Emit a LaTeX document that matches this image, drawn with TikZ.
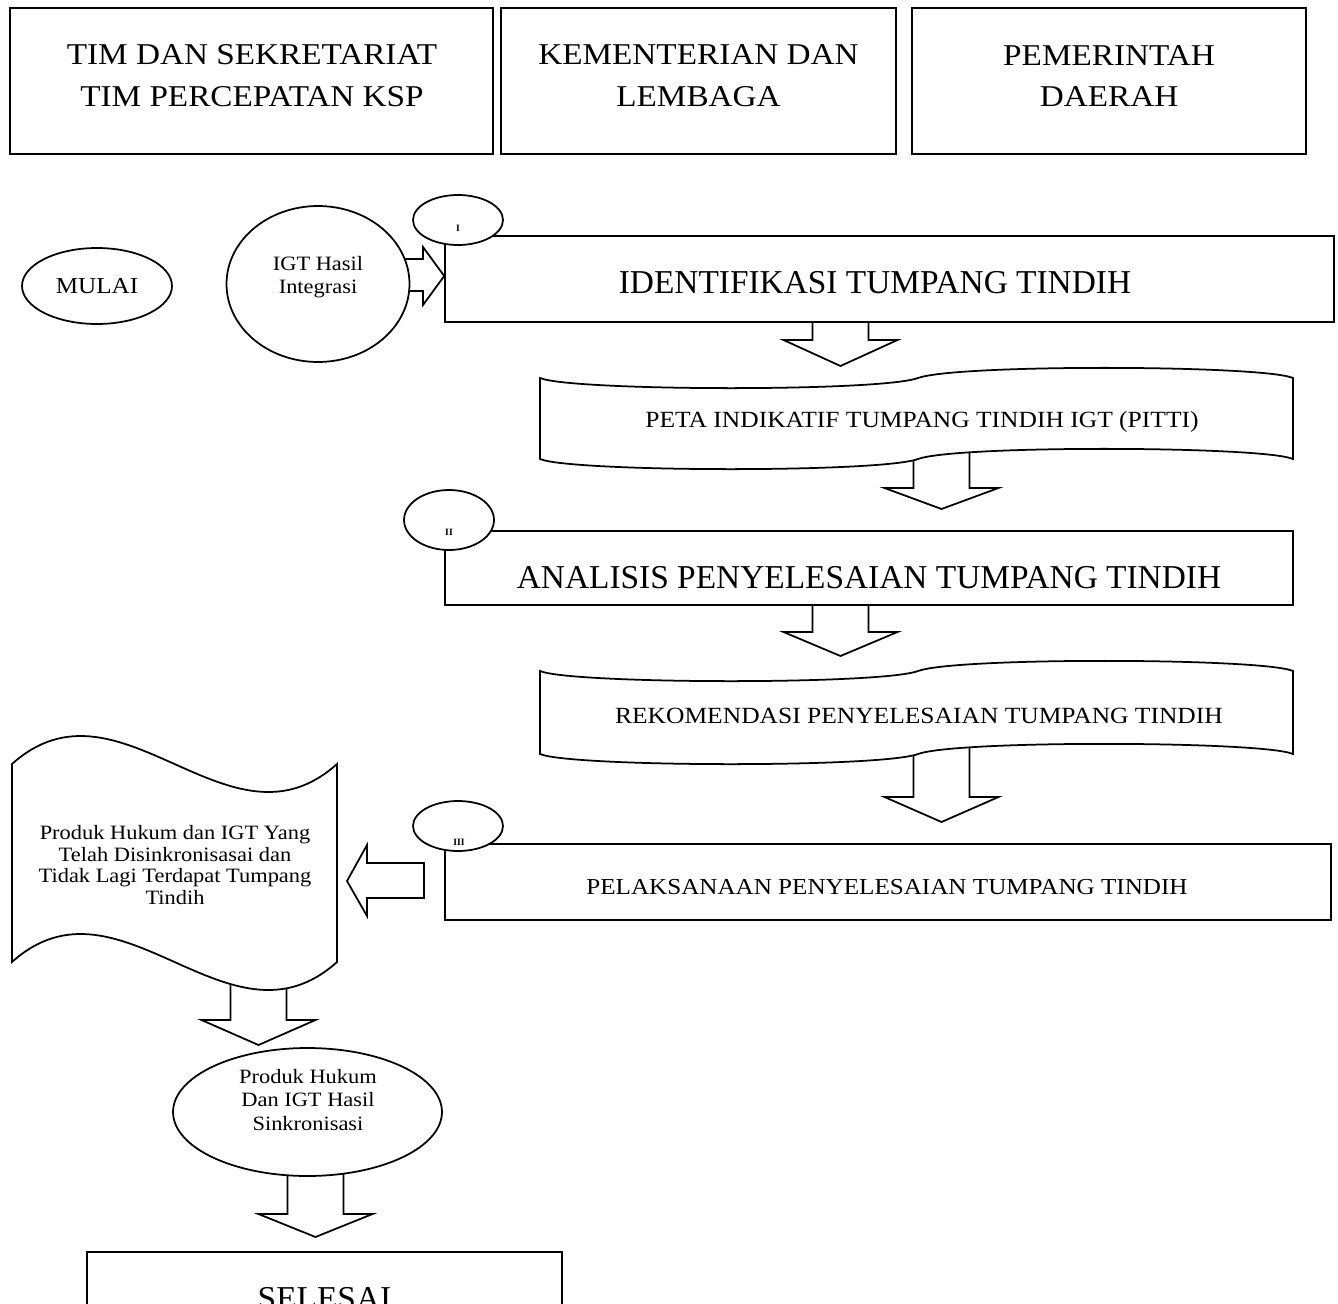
\documentclass[tikz,border=0pt]{standalone}
\usepackage{fontspec}
\setmainfont{Liberation Serif}
\newfontfamily\bookfont[FakeStretch=1.1]{Liberation Serif}
\usetikzlibrary{shapes.geometric, backgrounds}

\tikzset{
  hdrbox/.style={draw, line width=1pt, minimum height=2.92cm, inner sep=0pt},
  hdrtext/.style={font=\bookfont\fontsize{17.2}{23.8}\selectfont, align=center},
  bigbox/.style={draw, line width=1pt, fill=white, inner sep=0pt},
  bigtext/.style={font=\fontsize{19}{23}\selectfont},
  midtext/.style={font=\bookfont\fontsize{13.2}{16}\selectfont},
  smalltext/.style={font=\bookfont\fontsize{11.6}{13.3}\selectfont, align=center},
  oval/.style={draw, ellipse, line width=1pt, fill=white, inner sep=0pt, align=center, font=\bookfont\fontsize{11.6}{13.3}\selectfont},
  numoval/.style={draw, ellipse, line width=1pt, fill=white, minimum width=1.8cm, minimum height=1cm},
  numtext/.style={font=\bfseries\fontsize{5.5}{6}\selectfont},
  tape/.style={draw, line width=1pt, fill=white},
  blockarrow/.style={draw, line width=1pt, fill=white}
}

% block arrow pointing down: x, source node, head base y, tip y
\newcommand{\downblock}[4]{%
  \draw[blockarrow] (#1-28,0 |- #2.center) -- (#1-28,#3) -- (#1-57,#3) -- (#1,#4)
    -- (#1+57,#3) -- (#1+28,#3) -- (#1+28,0 |- #2.center);
}

\begin{document}
\begin{tikzpicture}[x=0.02cm, y=-0.02cm]
\useasboundingbox (0,0) rectangle (1338,1304);
\clip (0,0) rectangle (1338,1304);

% header
\node[hdrbox, minimum width=9.66cm] (hdrA) at (251.5,81) {};
\node[hdrbox, minimum width=7.9cm] (hdrB) at (698.5,81) {};
\node[hdrbox, minimum width=7.88cm] (hdrC) at (1109,81) {};
\node[hdrtext] (hdrAtxt) at (252,76) {TIM DAN SEKRETARIAT\\TIM PERCEPATAN KSP};
\node[hdrtext] (hdrBtxt) at (698.5,76) {KEMENTERIAN DAN\\LEMBAGA};
\node[hdrtext] (hdrCtxt) at (1109,76) {PEMERINTAH\\DAERAH};

% start
\node[oval, minimum width=3cm, minimum height=1.52cm, font=\bookfont\fontsize{13}{15}\selectfont] (mulai) at (97,286) {MULAI};
\node[oval, minimum width=3.66cm, minimum height=3.12cm] (igt) at (318,284) {};
\node[smalltext] (igttxt) at (318,277) {IGT Hasil\\Integrasi};

% I
\node[bigbox, minimum width=17.78cm, minimum height=1.72cm] (ident) at (889.5,279) {};
\node[bigtext] (identtxt) at (875,283) {IDENTIFIKASI TUMPANG TINDIH};
\node[numoval] (n1) at (458,220) {};
\node[numtext] (n1txt) at (458,228) {I};

\draw[tape] (540,378) .. controls (570,391) and (880,392) .. (918,378)
  .. controls (956,364) and (1263,365) .. (1293,378) -- (1293,459)
  .. controls (1263,446) and (956,445) .. (918,459)
  .. controls (880,473) and (570,472) .. (540,459) -- cycle;
\node[midtext] (peta) at (922,422) {PETA INDIKATIF TUMPANG TINDIH IGT (PITTI)};

% II
\node[bigbox, minimum width=16.96cm, minimum height=1.48cm] (anal) at (869,568) {};
\node[bigtext] (analtxt) at (869,578) {ANALISIS PENYELESAIAN TUMPANG TINDIH};
\node[numoval, minimum height=1.2cm] (n2) at (449,520) {};
\node[numtext] (n2txt) at (449,532) {II};

\draw[tape] (540,671) .. controls (570,684) and (880,685) .. (918,671)
  .. controls (956,657) and (1263,658) .. (1293,671) -- (1293,754)
  .. controls (1263,741) and (956,740) .. (918,754)
  .. controls (880,768) and (570,767) .. (540,754) -- cycle;
\node[midtext] (rekom) at (919,716) {REKOMENDASI PENYELESAIAN TUMPANG TINDIH};

% III
\node[bigbox, minimum width=17.72cm, minimum height=1.52cm] (pelak) at (888,882) {};
\node[midtext, font=\bookfont\fontsize{13}{16}\selectfont] (pelaktxt) at (887,887) {PELAKSANAAN PENYELESAIAN TUMPANG TINDIH};
\node[numoval] (n3) at (458,826) {};
\node[numtext] (n3txt) at (459,842) {III};

\draw[blockarrow] (424,863) -- (367,863) -- (367,845) -- (347,881) -- (367,916)
  -- (367,898) -- (424,898) -- cycle;

% output
\draw[tape] (12,764) .. controls (120,667) and (229,861) .. (337,764) -- (337,962)
  .. controls (229,1059) and (120,865) .. (12,962) -- cycle;
\node[smalltext, font=\bookfont\fontsize{11.6}{12.2}\selectfont] (doc) at (175,865)
  {Produk Hukum dan IGT Yang\\Telah Disinkronisasai dan\\Tidak Lagi Terdapat Tumpang\\Tindih};

\node[oval, minimum width=5.38cm, minimum height=2.56cm] (hasil) at (307.5,1112) {};
\node[smalltext] (hasiltxt) at (308,1100) {Produk Hukum\\Dan IGT Hasil\\Sinkronisasi};

\node[bigbox, bigtext, minimum width=9.5cm, minimum height=1.88cm] (selesai) at (324.5,1299) {SELESAI};

\begin{pgfonlayer}{background}
\draw[blockarrow] (igt.center |- 0,259) -- (423,259) -- (423,247) -- (ident.west |- 0,276)
  -- (423,305) -- (423,291) -- (igt.center |- 0,291);
\downblock{840.5}{ident}{340}{366}
\downblock{941.5}{peta}{488}{509}
\downblock{840.5}{anal}{632}{656}
\downblock{941.5}{rekom}{797}{822}
\downblock{258.5}{doc}{1020}{1045}
\downblock{315.5}{hasil}{1214}{1237}
\end{pgfonlayer}
\end{tikzpicture}
\end{document}
